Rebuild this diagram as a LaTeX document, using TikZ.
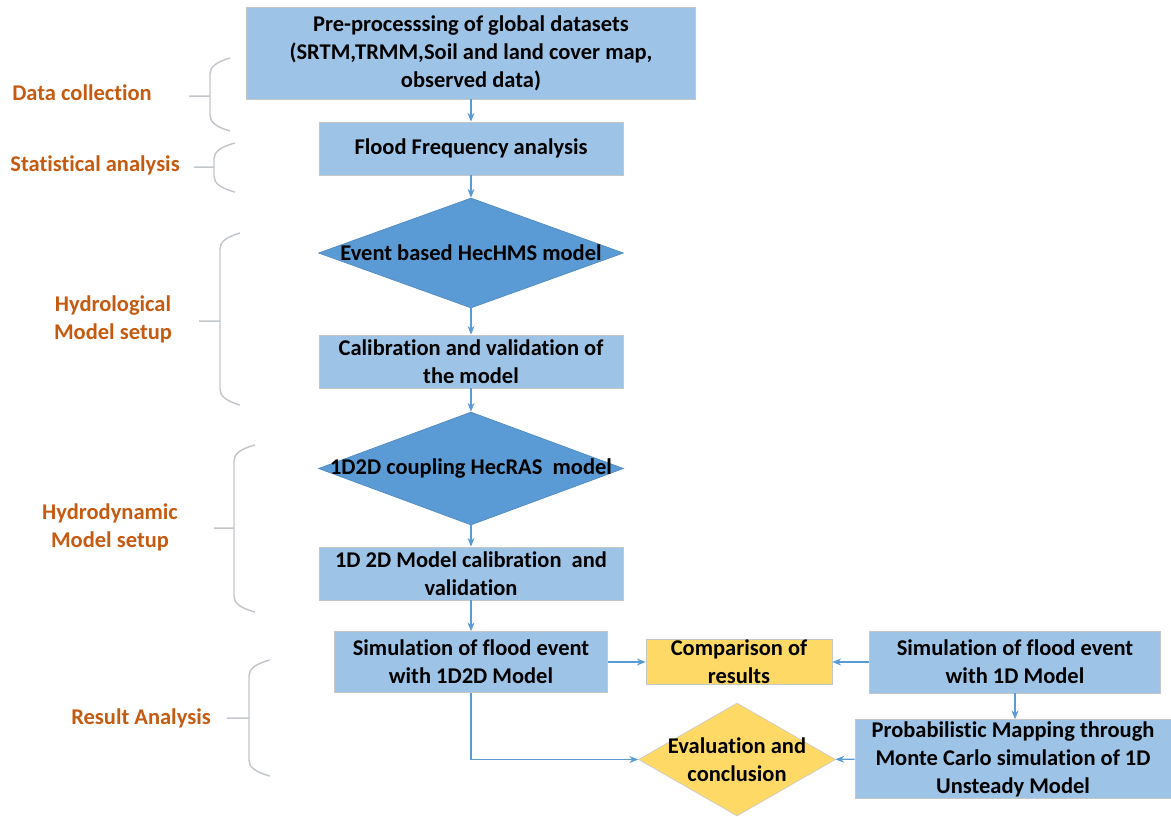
\documentclass[tikz,border=0pt]{standalone}
\usepackage{fontspec}
\setmainfont[Ligatures={NoCommon}]{Carlito}
\usepackage{xcolor}
\usepackage{tikz}
\usetikzlibrary{arrows.meta,shapes.geometric}
\definecolor{boxblue}{HTML}{9DC3E6}
\definecolor{diablue}{HTML}{5B9BD5}
\definecolor{resyellow}{HTML}{FFD966}
\definecolor{grporange}{HTML}{C55A11}
\definecolor{bracegray}{HTML}{C3C7CC}
\begin{document}
\begin{tikzpicture}[x=0.02cm,y=-0.02cm,
txt/.style={font=\bfseries\fontsize{12.8}{15.9}\selectfont,align=center},
blubox/.style={txt,rectangle,fill=boxblue,draw=black!22,inner sep=0pt},
yelbox/.style={txt,rectangle,fill=resyellow,draw=black!22,inner sep=0pt},
bludia/.style={diamond,fill=diablue,draw=diablue!90!black,inner sep=0pt},
yeldia/.style={diamond,fill=resyellow,draw=black!20,inner sep=0pt},
grplabel/.style={txt,text=grporange},
grpbrace/.style={draw=bracegray,line width=0.85pt},
flow/.style={-{Stealth[length=5pt,width=4pt]},draw=diablue,line width=0.7pt}]
\useasboundingbox (0,0) rectangle (1171,816);
% main column
\node[blubox,minimum width=8.98cm,minimum height=1.84cm] (pre) at (471,53)
{Pre-processsing of global datasets\\(SRTM,TRMM,Soil and land cover map,\\observed data)};
\node[blubox,minimum width=6.08cm,minimum height=1.06cm] (ffa) at (471,148.5) {Flood Frequency analysis};
\node[bludia,minimum width=6.1cm,minimum height=2.2cm,label={[txt]center:Event based HecHMS model}] (hms) at (471,253) {};
\node[blubox,minimum width=6.08cm,minimum height=1.06cm] (calhms) at (471,361.5) {Calibration and validation of\\the model};
\node[bludia,minimum width=6.1cm,minimum height=2.26cm,label={[txt]center:1D2D coupling HecRAS~ model}] (ras) at (471,468.5) {};
\node[blubox,minimum width=6.08cm,minimum height=1.06cm] (calras) at (471,573.5) {1D 2D Model calibration~ and\\validation};
% results row
\node[blubox,minimum width=5.46cm,minimum height=1.22cm] (simtwo) at (471,662) {Simulation of flood event\\with 1D2D Model};
\node[yelbox,minimum width=3.72cm,minimum height=0.9cm] (comp) at (739,662) {Comparison of\\results};
\node[blubox,minimum width=5.82cm,minimum height=1.24cm] (simone) at (1015,662) {Simulation of flood event\\with 1D Model};
\node[blubox,minimum width=6.32cm,minimum height=1.58cm] (prob) at (1013,759) {Probabilistic Mapping through\\Monte Carlo simulation of 1D\\Unsteady Model};
\node[yeldia,minimum width=3.94cm,minimum height=2.26cm,label={[txt]center:{Evaluation and\\conclusion}}] (eval) at (737,759.5) {};
% arrows
\draw[flow] (pre) -- (ffa);
\draw[flow] (ffa) -- (hms);
\draw[flow] (hms) -- (calhms);
\draw[flow] (calhms) -- (ras);
\draw[flow] (ras) -- (calras);
\draw[flow] (calras) -- (simtwo);
\draw[flow] (simtwo) -- (comp);
\draw[flow] (simone) -- (comp);
\draw[flow] (simone.south) -- (simone.south |- prob.north);
\draw[flow] (simtwo.south) |- (eval.west);
\draw[flow] (prob) -- (eval);
% group labels and braces
\node[grplabel] (datacol) at (82,93) {Data collection};
\node[grplabel] (stat) at (95,165) {Statistical analysis};
\node[grplabel] (hydro) at (113,319) {Hydrological\\Model setup};
\node[grplabel] (hydyn) at (110,527) {Hydrodynamic\\Model setup};
\node[grplabel] (result) at (141,718) {Result Analysis};
\draw[grpbrace] (230,58) .. controls (216,62) and (210,67) .. (210,74) -- (210,115) .. controls (210,122) and (216,127) .. (230,131) (189,96) -- (210,96);
\draw[grpbrace] (235,143) .. controls (220,147) and (214,152) .. (214,159) -- (214,176) .. controls (214,183) and (220,188) .. (235,192) (194,167) -- (214,167);
\draw[grpbrace] (240,233) .. controls (226,237) and (220,242) .. (220,249) -- (220,389) .. controls (220,396) and (226,401) .. (240,405) (199,321) -- (220,321);
\draw[grpbrace] (255,445) .. controls (240,449) and (234,454) .. (234,461) -- (234,596) .. controls (234,603) and (240,608) .. (255,612) (214,528) -- (234,528);
\draw[grpbrace] (270,660) .. controls (255,664) and (249,669) .. (249,676) -- (249,760) .. controls (249,767) and (255,772) .. (270,776) (227,718) -- (249,718);
\end{tikzpicture}
\end{document}
